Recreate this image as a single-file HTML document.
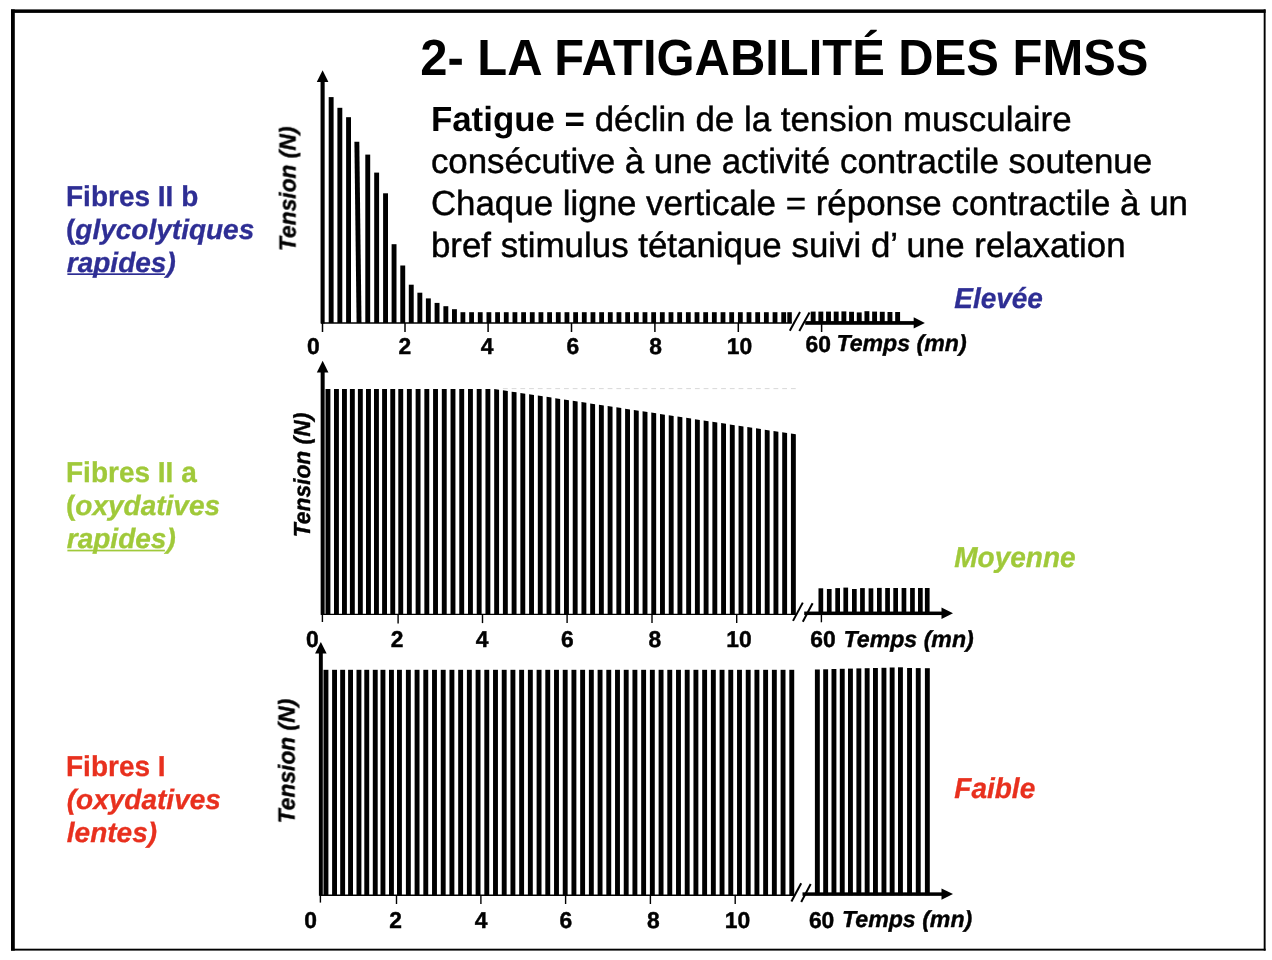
<!DOCTYPE html>
<html lang="fr">
<head>
<meta charset="utf-8">
<title>2- LA FATIGABILITÉ DES FMSS</title>
<style>
html,body{margin:0;padding:0;background:#fff;}
body{width:1272px;height:960px;overflow:hidden;position:relative;}
svg{position:absolute;left:0;top:0;}
svg text{font-family:"Liberation Sans", Arial, Helvetica, sans-serif;text-rendering:geometricPrecision;}
</style>
</head>
<body>
<svg width="1272" height="960" viewBox="0 0 1272 960">
<g fill="#000" shape-rendering="auto">
<rect x="11" y="9.4" width="3.8" height="941.2"/>
<rect x="11" y="9.4" width="1254.6" height="3.5"/>
<rect x="1263.7" y="9.4" width="1.9" height="941.2"/>
<rect x="11" y="948.7" width="1254.6" height="1.9"/>
<rect x="328.70" y="97.10" width="4.90" height="225.90"/>
<rect x="337.40" y="107.80" width="4.90" height="215.20"/>
<rect x="346.10" y="117.20" width="4.90" height="205.80"/>
<polygon points="354.40,141.80 359.30,141.80 361.50,323.00 356.60,323.00"/>
<rect x="365.30" y="154.60" width="4.90" height="168.40"/>
<rect x="374.20" y="172.60" width="4.90" height="150.40"/>
<rect x="383.10" y="193.30" width="4.90" height="129.70"/>
<rect x="391.60" y="244.20" width="4.90" height="78.80"/>
<rect x="400.30" y="265.50" width="4.90" height="57.50"/>
<rect x="408.80" y="284.70" width="4.90" height="38.30"/>
<rect x="417.40" y="292.70" width="4.90" height="30.30"/>
<rect x="425.90" y="298.40" width="4.90" height="24.60"/>
<rect x="434.60" y="302.90" width="4.90" height="20.10"/>
<rect x="443.40" y="306.20" width="4.90" height="16.80"/>
<rect x="452.00" y="309.20" width="4.90" height="13.80"/>
<rect x="460.50" y="312.20" width="4.80" height="10.80"/>
<rect x="469.17" y="312.20" width="4.80" height="10.80"/>
<rect x="477.84" y="312.20" width="4.80" height="10.80"/>
<rect x="486.51" y="312.20" width="4.80" height="10.80"/>
<rect x="495.18" y="312.20" width="4.80" height="10.80"/>
<rect x="503.85" y="312.20" width="4.80" height="10.80"/>
<rect x="512.52" y="312.20" width="4.80" height="10.80"/>
<rect x="521.19" y="312.20" width="4.80" height="10.80"/>
<rect x="529.86" y="312.20" width="4.80" height="10.80"/>
<rect x="538.53" y="312.20" width="4.80" height="10.80"/>
<rect x="547.20" y="312.20" width="4.80" height="10.80"/>
<rect x="555.87" y="312.20" width="4.80" height="10.80"/>
<rect x="564.54" y="312.20" width="4.80" height="10.80"/>
<rect x="573.21" y="312.20" width="4.80" height="10.80"/>
<rect x="581.88" y="312.20" width="4.80" height="10.80"/>
<rect x="590.55" y="312.20" width="4.80" height="10.80"/>
<rect x="599.22" y="312.20" width="4.80" height="10.80"/>
<rect x="607.89" y="312.20" width="4.80" height="10.80"/>
<rect x="616.56" y="312.20" width="4.80" height="10.80"/>
<rect x="625.23" y="312.20" width="4.80" height="10.80"/>
<rect x="633.90" y="312.20" width="4.80" height="10.80"/>
<rect x="642.57" y="312.20" width="4.80" height="10.80"/>
<rect x="651.24" y="312.20" width="4.80" height="10.80"/>
<rect x="659.91" y="312.20" width="4.80" height="10.80"/>
<rect x="668.58" y="312.20" width="4.80" height="10.80"/>
<rect x="677.25" y="312.20" width="4.80" height="10.80"/>
<rect x="685.92" y="312.20" width="4.80" height="10.80"/>
<rect x="694.59" y="312.20" width="4.80" height="10.80"/>
<rect x="703.26" y="312.20" width="4.80" height="10.80"/>
<rect x="711.93" y="312.20" width="4.80" height="10.80"/>
<rect x="720.60" y="312.20" width="4.80" height="10.80"/>
<rect x="729.27" y="312.20" width="4.80" height="10.80"/>
<rect x="737.94" y="312.20" width="4.80" height="10.80"/>
<rect x="746.61" y="312.20" width="4.80" height="10.80"/>
<rect x="755.28" y="312.20" width="4.80" height="10.80"/>
<rect x="763.95" y="312.20" width="4.80" height="10.80"/>
<rect x="772.62" y="312.20" width="4.80" height="10.80"/>
<rect x="781.29" y="312.20" width="4.80" height="10.80"/>
<rect x="787.30" y="312.20" width="4.50" height="10.80"/>
<rect x="810.70" y="311.60" width="4.90" height="11.40"/>
<rect x="818.38" y="311.60" width="4.90" height="11.40"/>
<rect x="826.06" y="311.60" width="4.90" height="11.40"/>
<rect x="833.74" y="311.60" width="4.90" height="11.40"/>
<rect x="841.42" y="311.40" width="4.90" height="11.60"/>
<rect x="849.10" y="311.80" width="4.90" height="11.20"/>
<rect x="856.78" y="312.40" width="4.90" height="10.60"/>
<rect x="864.46" y="311.20" width="4.90" height="11.80"/>
<rect x="872.14" y="311.60" width="4.90" height="11.40"/>
<rect x="879.82" y="311.80" width="4.90" height="11.20"/>
<rect x="887.50" y="312.00" width="4.90" height="11.00"/>
<rect x="895.18" y="312.00" width="4.90" height="11.00"/>
<rect x="320.55" y="80.90" width="4.1" height="242.60"/><polygon points="322.60,70.30 328.40,81.90 316.80,81.90"/>
<line x1="321.00" y1="323.00" x2="791.80" y2="323.00" stroke="#000" stroke-width="1.3"/>
<rect x="805.20" y="321.10" width="109.50" height="3.7"/><polygon points="924.90,322.95 913.70,317.35 913.70,328.55"/>
<line x1="322.50" y1="323.00" x2="322.50" y2="332.00" stroke="#000" stroke-width="1.5"/>
<line x1="405.00" y1="323.00" x2="405.00" y2="332.00" stroke="#000" stroke-width="1.5"/>
<line x1="488.10" y1="323.00" x2="488.10" y2="332.00" stroke="#000" stroke-width="1.5"/>
<line x1="571.50" y1="323.00" x2="571.50" y2="332.00" stroke="#000" stroke-width="1.5"/>
<line x1="654.90" y1="323.00" x2="654.90" y2="332.00" stroke="#000" stroke-width="1.5"/>
<line x1="738.30" y1="323.00" x2="738.30" y2="332.00" stroke="#000" stroke-width="1.5"/>
<line x1="821.60" y1="323.00" x2="821.60" y2="332.00" stroke="#000" stroke-width="1.5"/>
<line x1="789.80" y1="330.70" x2="800.00" y2="311.90" stroke="#000" stroke-width="2.0"/>
<line x1="799.30" y1="331.00" x2="809.50" y2="312.60" stroke="#000" stroke-width="2.0"/>
<polygon points="325.50,388.90 330.40,388.90 330.40,614.40 325.50,614.40"/>
<polygon points="334.00,388.90 338.90,388.90 338.90,614.40 334.00,614.40"/>
<polygon points="342.00,388.90 346.90,388.90 346.90,614.40 342.00,614.40"/>
<polygon points="349.90,388.90 354.80,388.90 354.80,614.40 349.90,614.40"/>
<polygon points="357.90,388.90 362.80,388.90 362.80,614.40 357.90,614.40"/>
<polygon points="366.00,388.90 370.90,388.90 370.90,614.40 366.00,614.40"/>
<polygon points="374.00,388.90 378.90,388.90 378.90,614.40 374.00,614.40"/>
<polygon points="382.10,388.90 387.00,388.90 387.00,614.40 382.10,614.40"/>
<polygon points="390.30,388.90 395.20,388.90 395.20,614.40 390.30,614.40"/>
<polygon points="398.30,388.90 403.20,388.90 403.20,614.40 398.30,614.40"/>
<polygon points="406.90,388.90 411.80,388.90 411.80,614.40 406.90,614.40"/>
<polygon points="415.63,388.90 420.53,388.90 420.53,614.40 415.63,614.40"/>
<polygon points="424.36,388.90 429.26,388.90 429.26,614.40 424.36,614.40"/>
<polygon points="433.08,388.90 437.98,388.90 437.98,614.40 433.08,614.40"/>
<polygon points="441.81,388.90 446.71,388.90 446.71,614.40 441.81,614.40"/>
<polygon points="450.54,388.90 455.44,388.90 455.44,614.40 450.54,614.40"/>
<polygon points="459.27,388.90 464.17,388.90 464.17,614.40 459.27,614.40"/>
<polygon points="468.00,388.90 472.90,388.90 472.90,614.40 468.00,614.40"/>
<polygon points="476.72,388.90 481.62,388.90 481.62,614.40 476.72,614.40"/>
<polygon points="485.45,388.90 490.35,388.90 490.35,614.40 485.45,614.40"/>
<polygon points="494.18,389.00 499.08,389.74 499.08,614.40 494.18,614.40"/>
<polygon points="502.91,390.31 507.81,391.05 507.81,614.40 502.91,614.40"/>
<rect x="502.91" y="388.2" width="4.8" height="0.9" fill="#d4d4d4"/>
<polygon points="511.64,391.63 516.54,392.36 516.54,614.40 511.64,614.40"/>
<rect x="511.64" y="388.2" width="4.8" height="0.9" fill="#d4d4d4"/>
<polygon points="520.36,392.94 525.26,393.67 525.26,614.40 520.36,614.40"/>
<rect x="520.36" y="388.2" width="4.8" height="0.9" fill="#d4d4d4"/>
<polygon points="529.09,394.25 533.99,394.99 533.99,614.40 529.09,614.40"/>
<rect x="529.09" y="388.2" width="4.8" height="0.9" fill="#d4d4d4"/>
<polygon points="537.82,395.56 542.72,396.30 542.72,614.40 537.82,614.40"/>
<rect x="537.82" y="388.2" width="4.8" height="0.9" fill="#d4d4d4"/>
<polygon points="546.55,396.87 551.45,397.61 551.45,614.40 546.55,614.40"/>
<rect x="546.55" y="388.2" width="4.8" height="0.9" fill="#d4d4d4"/>
<polygon points="555.28,398.18 560.18,398.92 560.18,614.40 555.28,614.40"/>
<rect x="555.28" y="388.2" width="4.8" height="0.9" fill="#d4d4d4"/>
<polygon points="564.00,399.50 568.90,400.23 568.90,614.40 564.00,614.40"/>
<rect x="564.00" y="388.2" width="4.8" height="0.9" fill="#d4d4d4"/>
<polygon points="572.73,400.81 577.63,401.55 577.63,614.40 572.73,614.40"/>
<rect x="572.73" y="388.2" width="4.8" height="0.9" fill="#d4d4d4"/>
<polygon points="581.46,402.12 586.36,402.86 586.36,614.40 581.46,614.40"/>
<rect x="581.46" y="388.2" width="4.8" height="0.9" fill="#d4d4d4"/>
<polygon points="590.19,403.43 595.09,404.17 595.09,614.40 590.19,614.40"/>
<rect x="590.19" y="388.2" width="4.8" height="0.9" fill="#d4d4d4"/>
<polygon points="598.92,404.74 603.82,405.48 603.82,614.40 598.92,614.40"/>
<rect x="598.92" y="388.2" width="4.8" height="0.9" fill="#d4d4d4"/>
<polygon points="607.64,406.06 612.54,406.79 612.54,614.40 607.64,614.40"/>
<rect x="607.64" y="388.2" width="4.8" height="0.9" fill="#d4d4d4"/>
<polygon points="616.37,407.37 621.27,408.10 621.27,614.40 616.37,614.40"/>
<rect x="616.37" y="388.2" width="4.8" height="0.9" fill="#d4d4d4"/>
<polygon points="625.10,408.68 630.00,409.42 630.00,614.40 625.10,614.40"/>
<rect x="625.10" y="388.2" width="4.8" height="0.9" fill="#d4d4d4"/>
<polygon points="633.83,409.99 638.73,410.73 638.73,614.40 633.83,614.40"/>
<rect x="633.83" y="388.2" width="4.8" height="0.9" fill="#d4d4d4"/>
<polygon points="642.56,411.30 647.46,412.04 647.46,614.40 642.56,614.40"/>
<rect x="642.56" y="388.2" width="4.8" height="0.9" fill="#d4d4d4"/>
<polygon points="651.28,412.61 656.18,413.35 656.18,614.40 651.28,614.40"/>
<rect x="651.28" y="388.2" width="4.8" height="0.9" fill="#d4d4d4"/>
<polygon points="660.01,413.93 664.91,414.66 664.91,614.40 660.01,614.40"/>
<rect x="660.01" y="388.2" width="4.8" height="0.9" fill="#d4d4d4"/>
<polygon points="668.74,415.24 673.64,415.98 673.64,614.40 668.74,614.40"/>
<rect x="668.74" y="388.2" width="4.8" height="0.9" fill="#d4d4d4"/>
<polygon points="677.47,416.55 682.37,417.29 682.37,614.40 677.47,614.40"/>
<rect x="677.47" y="388.2" width="4.8" height="0.9" fill="#d4d4d4"/>
<polygon points="686.20,417.86 691.10,418.60 691.10,614.40 686.20,614.40"/>
<rect x="686.20" y="388.2" width="4.8" height="0.9" fill="#d4d4d4"/>
<polygon points="694.92,419.17 699.82,419.91 699.82,614.40 694.92,614.40"/>
<rect x="694.92" y="388.2" width="4.8" height="0.9" fill="#d4d4d4"/>
<polygon points="703.65,420.49 708.55,421.22 708.55,614.40 703.65,614.40"/>
<rect x="703.65" y="388.2" width="4.8" height="0.9" fill="#d4d4d4"/>
<polygon points="712.38,421.80 717.28,422.53 717.28,614.40 712.38,614.40"/>
<rect x="712.38" y="388.2" width="4.8" height="0.9" fill="#d4d4d4"/>
<polygon points="721.11,423.11 726.01,423.85 726.01,614.40 721.11,614.40"/>
<rect x="721.11" y="388.2" width="4.8" height="0.9" fill="#d4d4d4"/>
<polygon points="729.84,424.42 734.74,425.16 734.74,614.40 729.84,614.40"/>
<rect x="729.84" y="388.2" width="4.8" height="0.9" fill="#d4d4d4"/>
<polygon points="738.56,425.73 743.46,426.47 743.46,614.40 738.56,614.40"/>
<rect x="738.56" y="388.2" width="4.8" height="0.9" fill="#d4d4d4"/>
<polygon points="747.29,427.04 752.19,427.78 752.19,614.40 747.29,614.40"/>
<rect x="747.29" y="388.2" width="4.8" height="0.9" fill="#d4d4d4"/>
<polygon points="756.02,428.36 760.92,429.09 760.92,614.40 756.02,614.40"/>
<rect x="756.02" y="388.2" width="4.8" height="0.9" fill="#d4d4d4"/>
<polygon points="764.75,429.67 769.65,430.41 769.65,614.40 764.75,614.40"/>
<rect x="764.75" y="388.2" width="4.8" height="0.9" fill="#d4d4d4"/>
<polygon points="773.48,430.98 778.38,431.72 778.38,614.40 773.48,614.40"/>
<rect x="773.48" y="388.2" width="4.8" height="0.9" fill="#d4d4d4"/>
<polygon points="782.20,432.29 787.10,433.03 787.10,614.40 782.20,614.40"/>
<rect x="782.20" y="388.2" width="4.8" height="0.9" fill="#d4d4d4"/>
<polygon points="790.93,433.60 795.83,434.34 795.83,614.40 790.93,614.40"/>
<rect x="790.93" y="388.2" width="4.8" height="0.9" fill="#d4d4d4"/>
<rect x="818.50" y="588.30" width="4.70" height="26.10"/>
<rect x="826.90" y="589.00" width="4.70" height="25.40"/>
<rect x="835.30" y="588.10" width="4.70" height="26.30"/>
<rect x="843.40" y="587.60" width="4.70" height="26.80"/>
<rect x="852.00" y="589.00" width="4.70" height="25.40"/>
<rect x="860.10" y="588.10" width="4.70" height="26.30"/>
<rect x="868.60" y="588.30" width="4.70" height="26.10"/>
<rect x="877.00" y="587.90" width="4.70" height="26.50"/>
<rect x="885.20" y="588.00" width="4.70" height="26.40"/>
<rect x="893.30" y="588.00" width="4.70" height="26.40"/>
<rect x="901.60" y="588.00" width="4.70" height="26.40"/>
<rect x="910.10" y="588.00" width="4.70" height="26.40"/>
<rect x="918.00" y="588.00" width="4.70" height="26.40"/>
<rect x="924.90" y="588.00" width="4.70" height="26.40"/>
<rect x="320.65" y="371.40" width="4.0" height="243.50"/><polygon points="322.65,360.80 328.45,372.40 316.85,372.40"/>
<line x1="321.00" y1="614.40" x2="796.00" y2="614.40" stroke="#000" stroke-width="1.4"/>
<rect x="804.20" y="611.55" width="138.30" height="3.5"/><polygon points="953.00,613.30 941.50,607.60 941.50,619.00"/>
<line x1="322.40" y1="614.40" x2="322.40" y2="622.00" stroke="#000" stroke-width="1.4"/>
<line x1="398.10" y1="614.40" x2="398.10" y2="623.40" stroke="#000" stroke-width="1.4"/>
<line x1="482.50" y1="614.40" x2="482.50" y2="623.10" stroke="#000" stroke-width="1.4"/>
<line x1="567.10" y1="614.40" x2="567.10" y2="623.10" stroke="#000" stroke-width="1.4"/>
<line x1="652.00" y1="614.40" x2="652.00" y2="623.10" stroke="#000" stroke-width="1.4"/>
<line x1="736.70" y1="614.40" x2="736.70" y2="623.10" stroke="#000" stroke-width="1.4"/>
<line x1="821.40" y1="614.40" x2="821.40" y2="622.30" stroke="#000" stroke-width="1.4"/>
<line x1="793.00" y1="620.90" x2="802.80" y2="602.60" stroke="#000" stroke-width="2.0"/>
<line x1="802.80" y1="621.70" x2="812.60" y2="603.20" stroke="#000" stroke-width="2.0"/>
<rect x="323.50" y="669.80" width="4.90" height="225.40"/>
<rect x="332.10" y="669.80" width="4.90" height="225.40"/>
<rect x="340.20" y="669.80" width="4.90" height="225.40"/>
<rect x="348.10" y="669.80" width="4.90" height="225.40"/>
<rect x="356.50" y="669.80" width="4.90" height="225.40"/>
<rect x="364.30" y="669.80" width="4.90" height="225.40"/>
<rect x="372.80" y="669.80" width="4.90" height="225.40"/>
<rect x="380.50" y="669.80" width="4.90" height="225.40"/>
<rect x="389.00" y="669.80" width="4.90" height="225.40"/>
<rect x="397.00" y="669.80" width="4.90" height="225.40"/>
<rect x="405.90" y="669.80" width="4.90" height="225.40"/>
<rect x="414.61" y="669.80" width="4.90" height="225.40"/>
<rect x="423.33" y="669.80" width="4.90" height="225.40"/>
<rect x="432.04" y="669.80" width="4.90" height="225.40"/>
<rect x="440.76" y="669.80" width="4.90" height="225.40"/>
<rect x="449.47" y="669.80" width="4.90" height="225.40"/>
<rect x="458.18" y="669.80" width="4.90" height="225.40"/>
<rect x="466.90" y="669.80" width="4.90" height="225.40"/>
<rect x="475.61" y="669.80" width="4.90" height="225.40"/>
<rect x="484.33" y="669.80" width="4.90" height="225.40"/>
<rect x="493.04" y="669.80" width="4.90" height="225.40"/>
<rect x="501.75" y="669.80" width="4.90" height="225.40"/>
<rect x="510.47" y="669.80" width="4.90" height="225.40"/>
<rect x="519.18" y="669.80" width="4.90" height="225.40"/>
<rect x="527.90" y="669.80" width="4.90" height="225.40"/>
<rect x="536.61" y="669.80" width="4.90" height="225.40"/>
<rect x="545.32" y="669.80" width="4.90" height="225.40"/>
<rect x="554.04" y="669.80" width="4.90" height="225.40"/>
<rect x="562.75" y="669.80" width="4.90" height="225.40"/>
<rect x="571.47" y="669.80" width="4.90" height="225.40"/>
<rect x="580.18" y="669.80" width="4.90" height="225.40"/>
<rect x="588.89" y="669.80" width="4.90" height="225.40"/>
<rect x="597.61" y="669.80" width="4.90" height="225.40"/>
<rect x="606.32" y="669.80" width="4.90" height="225.40"/>
<rect x="615.04" y="669.80" width="4.90" height="225.40"/>
<rect x="623.75" y="669.80" width="4.90" height="225.40"/>
<rect x="632.46" y="669.80" width="4.90" height="225.40"/>
<rect x="641.18" y="669.80" width="4.90" height="225.40"/>
<rect x="649.89" y="669.80" width="4.90" height="225.40"/>
<rect x="658.61" y="669.80" width="4.90" height="225.40"/>
<rect x="667.32" y="669.80" width="4.90" height="225.40"/>
<rect x="676.03" y="669.80" width="4.90" height="225.40"/>
<rect x="684.75" y="669.80" width="4.90" height="225.40"/>
<rect x="693.46" y="669.80" width="4.90" height="225.40"/>
<rect x="702.18" y="669.80" width="4.90" height="225.40"/>
<rect x="710.89" y="669.80" width="4.90" height="225.40"/>
<rect x="719.60" y="669.80" width="4.90" height="225.40"/>
<rect x="728.32" y="669.80" width="4.90" height="225.40"/>
<rect x="737.03" y="669.80" width="4.90" height="225.40"/>
<rect x="745.75" y="669.80" width="4.90" height="225.40"/>
<rect x="754.46" y="669.80" width="4.90" height="225.40"/>
<rect x="763.17" y="669.80" width="4.90" height="225.40"/>
<rect x="771.89" y="669.80" width="4.90" height="225.40"/>
<rect x="780.60" y="669.80" width="4.90" height="225.40"/>
<rect x="789.32" y="669.80" width="4.90" height="225.40"/>
<rect x="814.90" y="669.50" width="4.90" height="225.70"/>
<rect x="823.20" y="669.30" width="4.90" height="225.90"/>
<rect x="831.50" y="669.00" width="4.90" height="226.20"/>
<rect x="839.80" y="668.80" width="4.90" height="226.40"/>
<rect x="848.00" y="668.60" width="4.90" height="226.60"/>
<rect x="856.40" y="668.40" width="4.90" height="226.80"/>
<rect x="864.70" y="668.20" width="4.90" height="227.00"/>
<rect x="873.00" y="668.00" width="4.90" height="227.20"/>
<rect x="881.50" y="667.80" width="4.90" height="227.40"/>
<rect x="889.70" y="667.50" width="4.90" height="227.70"/>
<rect x="898.00" y="667.30" width="4.90" height="227.90"/>
<rect x="907.10" y="668.00" width="4.90" height="227.20"/>
<rect x="915.80" y="668.10" width="4.90" height="227.10"/>
<rect x="924.90" y="668.20" width="4.90" height="227.00"/>
<rect x="318.90" y="652.60" width="3.9" height="243.10"/><polygon points="320.85,642.00 326.65,653.60 315.05,653.60"/>
<line x1="319.60" y1="895.20" x2="794.00" y2="895.20" stroke="#000" stroke-width="1.4"/>
<rect x="802.50" y="892.35" width="140.00" height="3.5"/><polygon points="953.00,894.10 941.50,888.40 941.50,899.80"/>
<line x1="320.40" y1="895.20" x2="320.40" y2="902.60" stroke="#000" stroke-width="1.4"/>
<line x1="396.50" y1="895.20" x2="396.50" y2="904.00" stroke="#000" stroke-width="1.4"/>
<line x1="480.90" y1="895.20" x2="480.90" y2="904.00" stroke="#000" stroke-width="1.4"/>
<line x1="565.60" y1="895.20" x2="565.60" y2="904.00" stroke="#000" stroke-width="1.4"/>
<line x1="650.40" y1="895.20" x2="650.40" y2="904.00" stroke="#000" stroke-width="1.4"/>
<line x1="735.20" y1="895.20" x2="735.20" y2="904.00" stroke="#000" stroke-width="1.4"/>
<line x1="791.40" y1="901.50" x2="801.20" y2="883.20" stroke="#000" stroke-width="2.0"/>
<line x1="801.20" y1="902.00" x2="810.70" y2="884.00" stroke="#000" stroke-width="2.0"/>
</g>
<g style="will-change:opacity;opacity:0.9999">
<text transform="translate(420.20,75.00) scale(1,1.042)" font-size="48.92" font-weight="bold" font-style="normal" fill="#000" text-anchor="start" id="title">2- LA FATIGABILITÉ DES FMSS</text>
<text x="430.9" y="131" font-size="34.88" font-weight="normal" id="p1" stroke="#000" stroke-width="0.45"><tspan font-weight="bold" stroke="none">Fatigue =</tspan> déclin de la tension musculaire</text>
<text x="430.9" y="173" font-size="34.88" font-weight="normal" id="p2" stroke="#000" stroke-width="0.45">consécutive à une activité contractile soutenue</text>
<text x="430.9" y="215" font-size="34.88" font-weight="normal" id="p3" stroke="#000" stroke-width="0.45">Chaque ligne verticale = réponse contractile à un</text>
<text x="430.9" y="257" font-size="34.88" font-weight="normal" id="p4" stroke="#000" stroke-width="0.45">bref stimulus tétanique suivi d’ une relaxation</text>
<text transform="translate(66.00,206.00) scale(1,1.025)" font-size="28" font-weight="bold" font-style="normal" fill="#2E2E94" stroke="#2E2E94" stroke-width="0.3" text-anchor="start" >Fibres II b</text>
<text x="66.0" y="239" font-size="28" font-weight="bold" fill="#2E2E94" stroke="#2E2E94" stroke-width="0.3">(<tspan font-style="italic">glycolytiques</tspan></text>
<text x="66.8" y="272" font-size="28" font-weight="bold" font-style="italic" fill="#2E2E94" stroke="#2E2E94" stroke-width="0.3">rapides)</text>
<text transform="translate(66.00,482.00) scale(1,1.025)" font-size="28" font-weight="bold" font-style="normal" fill="#A0C93A" stroke="#A0C93A" stroke-width="0.3" text-anchor="start" >Fibres II a</text>
<text x="66.0" y="515" font-size="28" font-weight="bold" fill="#A0C93A" stroke="#A0C93A" stroke-width="0.3">(<tspan font-style="italic">oxydatives</tspan></text>
<text x="66.8" y="548" font-size="28" font-weight="bold" font-style="italic" fill="#A0C93A" stroke="#A0C93A" stroke-width="0.3">rapides)</text>
<text transform="translate(66.00,776.00) scale(1,1.025)" font-size="28" font-weight="bold" font-style="normal" fill="#E8301E" stroke="#E8301E" stroke-width="0.3" text-anchor="start" >Fibres I</text>
<text x="66.80" y="809.00" font-size="28" font-weight="bold" font-style="italic" fill="#E8301E" stroke="#E8301E" stroke-width="0.3" text-anchor="start" >(oxydatives</text>
<text x="66.80" y="842.00" font-size="28" font-weight="bold" font-style="italic" fill="#E8301E" stroke="#E8301E" stroke-width="0.3" text-anchor="start" >lentes)</text>
<rect x="67.4" y="273.3" width="97.5" height="1.7" fill="#2E2E94"/>
<rect x="67.4" y="549.7" width="97.5" height="1.7" fill="#A0C93A"/>
<text transform="translate(954.20,308.00) scale(1,1.025)" font-size="28" font-weight="bold" font-style="italic" fill="#2E2E94" stroke="#2E2E94" stroke-width="0.3" text-anchor="start" >Elevée</text>
<text transform="translate(954.20,567.00) scale(1,1.025)" font-size="28" font-weight="bold" font-style="italic" fill="#A0C93A" stroke="#A0C93A" stroke-width="0.3" text-anchor="start" >Moyenne</text>
<text transform="translate(954.30,798.00) scale(1,1.025)" font-size="28" font-weight="bold" font-style="italic" fill="#E8301E" stroke="#E8301E" stroke-width="0.3" text-anchor="start" >Faible</text>
<text transform="translate(296.00,188.80) rotate(-90) scale(1,1.02)" font-size="22.8" font-weight="bold" font-style="italic" text-anchor="middle" stroke="#000" stroke-width="0.4">Tension (N)</text>
<text transform="translate(310.00,475.00) rotate(-90) scale(1,1.02)" font-size="22.8" font-weight="bold" font-style="italic" text-anchor="middle" stroke="#000" stroke-width="0.4">Tension (N)</text>
<text transform="translate(295.00,761.10) rotate(-90) scale(1,1.02)" font-size="22.8" font-weight="bold" font-style="italic" text-anchor="middle" stroke="#000" stroke-width="0.4">Tension (N)</text>
<text x="313.40" y="354.00" font-size="22.8" font-weight="bold" font-style="normal" fill="#000" text-anchor="middle" stroke="#000" stroke-width="0.45">0</text>
<text x="404.80" y="354.00" font-size="22.8" font-weight="bold" font-style="normal" fill="#000" text-anchor="middle" stroke="#000" stroke-width="0.45">2</text>
<text x="487.10" y="354.00" font-size="22.8" font-weight="bold" font-style="normal" fill="#000" text-anchor="middle" stroke="#000" stroke-width="0.45">4</text>
<text x="572.90" y="354.00" font-size="22.8" font-weight="bold" font-style="normal" fill="#000" text-anchor="middle" stroke="#000" stroke-width="0.45">6</text>
<text x="655.70" y="354.00" font-size="22.8" font-weight="bold" font-style="normal" fill="#000" text-anchor="middle" stroke="#000" stroke-width="0.45">8</text>
<text x="739.40" y="354.00" font-size="22.8" font-weight="bold" font-style="normal" fill="#000" text-anchor="middle" stroke="#000" stroke-width="0.45">10</text>
<text x="818.20" y="352.00" font-size="22.8" font-weight="bold" font-style="normal" fill="#000" text-anchor="middle" stroke="#000" stroke-width="0.45">60</text>
<text x="312.30" y="647.00" font-size="22.8" font-weight="bold" font-style="normal" fill="#000" text-anchor="middle" stroke="#000" stroke-width="0.45">0</text>
<text x="397.10" y="647.00" font-size="22.8" font-weight="bold" font-style="normal" fill="#000" text-anchor="middle" stroke="#000" stroke-width="0.45">2</text>
<text x="482.20" y="647.00" font-size="22.8" font-weight="bold" font-style="normal" fill="#000" text-anchor="middle" stroke="#000" stroke-width="0.45">4</text>
<text x="567.40" y="647.00" font-size="22.8" font-weight="bold" font-style="normal" fill="#000" text-anchor="middle" stroke="#000" stroke-width="0.45">6</text>
<text x="654.90" y="647.00" font-size="22.8" font-weight="bold" font-style="normal" fill="#000" text-anchor="middle" stroke="#000" stroke-width="0.45">8</text>
<text x="739.00" y="647.00" font-size="22.8" font-weight="bold" font-style="normal" fill="#000" text-anchor="middle" stroke="#000" stroke-width="0.45">10</text>
<text x="823.00" y="647.00" font-size="22.8" font-weight="bold" font-style="normal" fill="#000" text-anchor="middle" stroke="#000" stroke-width="0.45">60</text>
<text x="310.50" y="928.00" font-size="22.8" font-weight="bold" font-style="normal" fill="#000" text-anchor="middle" stroke="#000" stroke-width="0.45">0</text>
<text x="395.60" y="928.00" font-size="22.8" font-weight="bold" font-style="normal" fill="#000" text-anchor="middle" stroke="#000" stroke-width="0.45">2</text>
<text x="481.20" y="928.00" font-size="22.8" font-weight="bold" font-style="normal" fill="#000" text-anchor="middle" stroke="#000" stroke-width="0.45">4</text>
<text x="565.80" y="928.00" font-size="22.8" font-weight="bold" font-style="normal" fill="#000" text-anchor="middle" stroke="#000" stroke-width="0.45">6</text>
<text x="653.40" y="928.00" font-size="22.8" font-weight="bold" font-style="normal" fill="#000" text-anchor="middle" stroke="#000" stroke-width="0.45">8</text>
<text x="737.40" y="928.00" font-size="22.8" font-weight="bold" font-style="normal" fill="#000" text-anchor="middle" stroke="#000" stroke-width="0.45">10</text>
<text x="821.60" y="928.00" font-size="22.8" font-weight="bold" font-style="normal" fill="#000" text-anchor="middle" stroke="#000" stroke-width="0.45">60</text>
<text x="836.40" y="351.00" font-size="23.15" font-weight="bold" font-style="italic" fill="#000" text-anchor="start" stroke="#000" stroke-width="0.4">Temps (mn)</text>
<text x="843.50" y="647.00" font-size="23.15" font-weight="bold" font-style="italic" fill="#000" text-anchor="start" stroke="#000" stroke-width="0.4">Temps (mn)</text>
<text x="842.00" y="927.00" font-size="23.15" font-weight="bold" font-style="italic" fill="#000" text-anchor="start" stroke="#000" stroke-width="0.4">Temps (mn)</text>
</g>
</svg>
</body>
</html>
